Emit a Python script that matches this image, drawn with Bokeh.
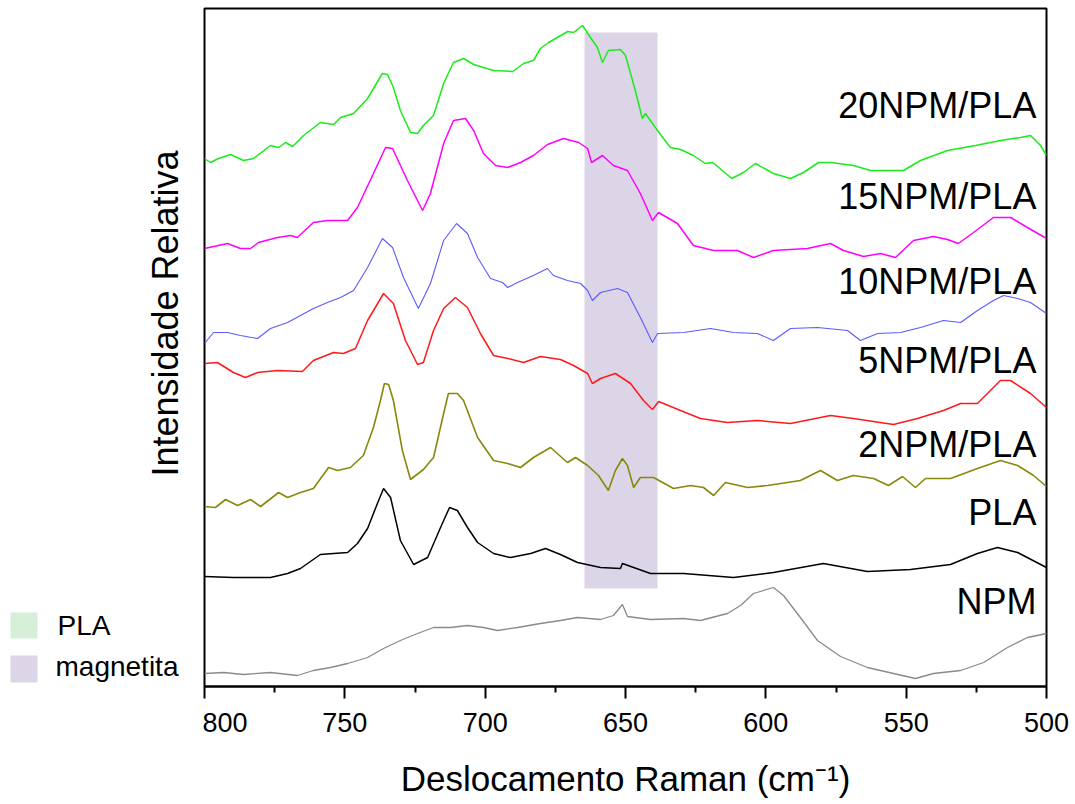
import math
from bokeh.plotting import figure
from bokeh.layouts import row
from bokeh.models import Range1d, FixedTicker
from bokeh.core.properties import value
from bokeh.embed import file_html
from bokeh.resources import INLINE

FONT = "Liberation Sans"

# ---- data: Raman shift (cm^-1) and relative intensity (stacked, a.u.) ----
wn_20 = [800.0, 797.9, 795.0, 790.7, 786.1, 782.5, 776.5, 773.6, 771.1, 768.6, 764.7, 758.7, 754.0, 751.5,
         746.9, 741.9, 739.8, 736.6, 734.8, 732.7, 730.2, 726.6, 724.1, 722.0, 718.4, 714.8, 711.3, 707.7,
         704.1, 700.6, 697.0, 690.2, 686.3, 682.8, 680.3, 677.4, 670.6, 668.5, 665.3, 662.5, 660.0, 658.2,
         656.1, 651.8, 650.0, 646.5, 644.0, 642.9, 638.6, 634.0, 630.4, 625.8, 621.6, 618.9, 612.1, 608.0,
         603.7, 597.3, 591.2, 586.6, 581.2, 577.0, 568.8, 562.7, 551.0, 544.9, 535.3, 525.3, 516.4, 509.3,
         505.7, 502.1, 500.0]
int_20 = [528, 524, 528, 532, 526, 528, 541, 539, 544, 540, 551, 564, 562, 569, 573, 588, 598, 613, 612, 599,
          576, 554, 553, 561, 571, 603, 624, 628, 622, 619, 616, 615, 623, 626, 638, 644, 655, 654, 661, 649,
          639, 624, 636, 637, 631, 596, 568, 573, 556, 539, 537, 531, 523, 524, 508, 514, 523, 513, 508, 514,
          524, 524, 521, 516, 516, 526, 536, 541, 546, 549, 551, 541, 531]

wn_15 = [800.0, 791.8, 787.2, 783.6, 780.8, 774.0, 769.4, 766.9, 761.2, 756.2, 749.0, 745.5, 739.8, 735.5,
         733.0, 727.7, 722.3, 719.5, 714.8, 711.3, 707.0, 704.1, 700.6, 696.3, 692.0, 687.4, 682.8, 677.8,
         672.1, 666.7, 663.5, 662.1, 658.2, 654.3, 649.3, 644.7, 640.4, 638.2, 631.5, 625.8, 618.6, 610.1,
         604.4, 597.3, 585.2, 577.0, 572.3, 565.2, 559.1, 553.8, 547.4, 540.3, 535.3, 531.4, 526.0, 518.9,
         512.8, 506.8, 500.0]
int_15 = [438, 443, 438, 438, 444, 449, 451, 449, 464, 466, 466, 479, 513, 539, 538, 506, 476, 493, 543, 566,
          568, 556, 533, 521, 519, 524, 531, 542, 548, 544, 538, 524, 531, 521, 516, 493, 466, 474, 463, 441,
          436, 436, 429, 436, 438, 443, 436, 430, 433, 429, 446, 450, 447, 443, 454, 469, 469, 459, 448]

wn_10 = [800.0, 796.8, 791.8, 787.2, 781.1, 776.5, 770.4, 765.8, 761.2, 756.2, 751.5, 746.9, 741.9, 736.6,
         733.0, 729.1, 723.8, 719.5, 714.8, 710.2, 706.3, 702.7, 698.1, 693.8, 692.0, 688.5, 682.8, 677.8,
         675.7, 670.7, 666.0, 663.5, 661.8, 658.9, 652.9, 649.3, 644.7, 640.4, 638.6, 629.3, 619.7, 611.5,
         603.0, 597.3, 591.2, 581.6, 570.9, 566.3, 560.2, 552.0, 544.9, 536.7, 530.6, 524.6, 518.9, 515.3,
         510.3, 505.7, 500.0]
int_10 = [343, 354, 354, 351, 348, 358, 364, 371, 378, 384, 389, 396, 419, 448, 439, 409, 378, 403, 446, 463,
          453, 429, 408, 404, 399, 404, 411, 418, 411, 406, 403, 396, 386, 394, 398, 394, 369, 344, 353, 354,
          358, 354, 353, 346, 358, 359, 356, 346, 353, 354, 359, 366, 364, 376, 386, 391, 388, 384, 373]

wn_5 = [800.0, 795.4, 789.7, 785.4, 781.1, 774.0, 765.1, 761.2, 754.0, 750.5, 746.2, 741.9, 736.2, 732.7,
        728.4, 724.1, 722.0, 718.4, 714.8, 710.6, 706.3, 701.7, 697.0, 692.0, 686.3, 680.3, 673.2, 668.5,
        663.5, 661.8, 658.9, 653.6, 648.2, 643.6, 640.4, 638.2, 630.4, 623.3, 613.7, 603.0, 591.2, 577.0,
        568.8, 554.5, 546.0, 536.7, 530.6, 524.6, 516.4, 512.8, 505.7, 500.0]
int_5 = [323, 324, 314, 309, 314, 316, 315, 326, 334, 333, 338, 366, 393, 383, 346, 322, 324, 356, 378, 389,
         379, 353, 331, 328, 324, 330, 327, 321, 313, 303, 308, 313, 303, 286, 277, 285, 276, 268, 264, 266,
         263, 271, 268, 262, 268, 276, 283, 283, 306, 306, 293, 279]

wn_2 = [800.0, 796.1, 792.5, 788.2, 783.6, 780.0, 773.6, 770.4, 765.8, 761.2, 755.8, 752.6, 748.0, 743.4,
        739.8, 737.3, 735.9, 734.4, 732.7, 729.5, 726.6, 722.0, 718.4, 714.8, 713.1, 709.9, 707.7, 702.7,
        697.0, 692.0, 687.4, 682.8, 676.7, 670.7, 667.8, 663.5, 659.6, 656.1, 653.6, 651.1, 649.3, 647.1,
        644.7, 640.0, 632.9, 626.8, 622.2, 618.6, 614.4, 606.5, 599.4, 587.7, 580.5, 574.5, 568.8, 561.6,
        556.3, 551.3, 546.7, 543.1, 534.2, 524.6, 516.4, 510.3, 504.6, 500.0]
int_2 = [180, 179, 187, 181, 187, 180, 194, 189, 194, 198, 219, 216, 219, 231, 259, 286, 303, 302, 286, 236,
         207, 217, 229, 273, 293, 293, 286, 249, 226, 223, 219, 229, 239, 224, 229, 221, 211, 196, 216, 228,
         221, 199, 209, 209, 198, 201, 199, 191, 204, 199, 201, 206, 216, 206, 211, 208, 201, 210, 199, 208,
         208, 218, 226, 221, 211, 200]

wn_pla = [800.0, 789.7, 776.5, 770.4, 765.8, 758.7, 754.0, 749.0, 745.5, 741.9, 738.4, 736.2, 733.7, 730.2,
          725.5, 720.5, 715.9, 712.7, 709.9, 706.3, 702.7, 697.0, 691.0, 683.8, 678.5, 673.2, 667.1, 658.9,
          651.8, 651.1, 641.1, 629.3, 611.5, 597.3, 579.5, 563.8, 548.5, 534.2, 524.6, 517.5, 510.3, 500.0]
int_pla = [110, 109, 109, 113, 118, 132, 133, 134, 143, 158, 183, 198, 189, 146, 122, 129, 159, 179, 176, 159,
           144, 133, 129, 133, 138, 132, 124, 119, 118, 123, 113, 113, 109, 114, 123, 115, 117, 122, 133, 139,
           134, 119]

wn_npm = [800.0, 793.2, 786.1, 776.5, 766.9, 761.2, 755.1, 749.0, 741.9, 736.2, 730.2, 724.1, 718.4, 712.4,
          706.3, 700.6, 695.6, 688.5, 680.3, 673.2, 667.1, 658.9, 654.3, 651.1, 649.3, 641.1, 629.3, 623.3,
          613.7, 609.0, 604.4, 597.3, 593.7, 587.7, 581.6, 573.4, 563.8, 554.5, 546.7, 540.3, 530.6, 522.4,
          513.9, 506.8, 500.0]
int_npm = [13, 14, 12, 14, 11, 16, 19, 23, 29, 38, 46, 53, 59, 59, 61, 59, 56, 59, 63, 66, 69, 67, 71, 82, 70,
           67, 68, 66, 73, 81, 93, 99, 91, 69, 46, 30, 19, 13, 8, 13, 16, 24, 39, 49, 53]

series_names = ["20NPM/PLA", "15NPM/PLA", "10NPM/PLA", "5NPM/PLA", "2NPM/PLA", "PLA", "NPM"]
series_x = [wn_20, wn_15, wn_10, wn_5, wn_2, wn_pla, wn_npm]
series_y = [int_20, int_15, int_10, int_5, int_2, int_pla, int_npm]

# magnetita band (cm^-1) and its vertical extent (a.u.)
band_shift = [664.6, 638.6]
band_int = [98, 654]

x_ticks = [800, 750, 700, 650, 600, 550, 500]
x_minor = [775, 725, 675, 625, 575, 525]

legend_names = ["PLA", "magnetita"]
legend_colors = ["#d5efd9", "#dcd5e8"]

# ---- styles / layout ----
colors = ["#1aeb1a", "#ff00ff", "#5a5aff", "#ff1a1a", "#88880a", "#000000", "#8a8a8a"]
widths = [1.5, 1.5, 1.1, 1.5, 1.6, 1.5, 1.3]
label_x = 503.6
label_y = [581, 490, 405, 326, 242, 174, 85]

H = 804
LEFT_W = 202
TOP = 8
BOTTOM = 118

# ---------------- main plot ----------------
p = figure(width=1075 - LEFT_W, height=H, output_backend="svg", toolbar_location=None,
           x_range=Range1d(800, 500), y_range=Range1d(0, 678), y_axis_type=None,
           min_border_left=2, min_border_right=29, min_border_top=TOP, min_border_bottom=BOTTOM)
p.background_fill_color = "white"
p.border_fill_color = "white"
p.outline_line_color = "black"
p.outline_line_width = 2
p.xgrid.visible = False
p.ygrid.visible = False

p.quad(left=[band_shift[0]], right=[band_shift[1]], bottom=[band_int[0]], top=[band_int[1]],
       fill_color=legend_colors[1], line_color=None)

for xs, ys, c, w in zip(series_x, series_y, colors, widths):
    p.line(xs, ys, line_color=c, line_width=w)

p.text(x=[label_x] * len(series_names), y=label_y, text=series_names,
       text_font=value(FONT), text_font_size="36px", text_align="right",
       text_baseline="middle", text_color="black")

xa = p.xaxis[0]
xa.ticker = FixedTicker(ticks=x_ticks, minor_ticks=x_minor)
xa.axis_line_width = 2
xa.axis_line_color = "black"
xa.major_tick_line_width = 2
xa.minor_tick_line_width = 2
xa.major_tick_in = 0
xa.major_tick_out = 12
xa.minor_tick_in = 0
xa.minor_tick_out = 6
xa.major_label_standoff = 14
xa.major_label_text_font = FONT
xa.major_label_text_font_size = "27px"
xa.major_label_text_color = "black"
xa.axis_label = "Deslocamento Raman (cm⁻¹)"
xa.axis_label_text_font = FONT
xa.axis_label_text_font_size = "35px"
xa.axis_label_text_font_style = "normal"
xa.axis_label_text_color = "black"
xa.axis_label_standoff = 24

# ---------------- left strip: y title + legend (screen-pixel coordinates) ----------------
q = figure(width=LEFT_W, height=H, output_backend="svg", toolbar_location=None,
           x_range=Range1d(0, LEFT_W), y_range=Range1d(H - BOTTOM, TOP),
           x_axis_type=None, y_axis_type=None,
           min_border_left=0, min_border_right=0, min_border_top=TOP, min_border_bottom=BOTTOM)
q.outline_line_color = None
q.xgrid.visible = False
q.ygrid.visible = False
q.background_fill_color = "white"
q.border_fill_color = "white"

q.text(x=[165], y=[313], text=["Intensidade Relativa"], angle=math.pi / 2,
       text_font=value(FONT), text_font_size="36px", text_align="center",
       text_baseline="middle", text_color="black")

q.quad(left=[10, 10], right=[37, 37], top=[612, 655], bottom=[638, 682],
       fill_color=legend_colors, line_color=None)
q.text(x=[57, 55], y=[625, 666], text=legend_names,
       text_font=value(FONT), text_font_size="28px", text_align="left",
       text_baseline="middle", text_color="black")

layout = row(q, p, spacing=0)
open("out.html", "w").write(file_html(layout, INLINE))
